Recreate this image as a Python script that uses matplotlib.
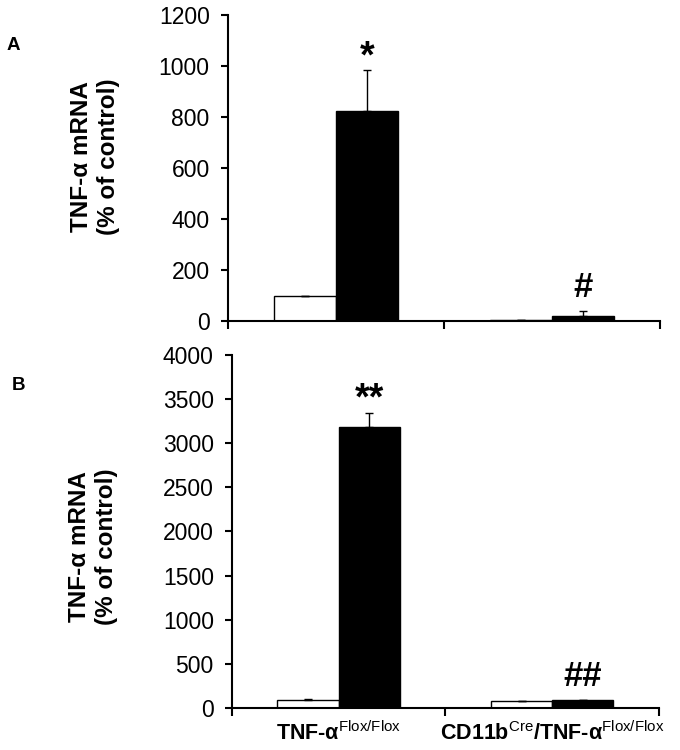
import numpy as np
import matplotlib
matplotlib.use("Agg")
import matplotlib.pyplot as plt

plt.rcParams['font.family'] = ['Liberation Sans', 'DejaVu Sans']
plt.rcParams['mathtext.fontset'] = 'custom'
plt.rcParams['mathtext.rm'] = 'Liberation Sans'

groups = [r"TNF-α$^{\mathrm{Flox/Flox}}$", r"CD11b$^{\mathrm{Cre}}$/TNF-α$^{\mathrm{Flox/Flox}}$"]

# panel A
a_white = [100, 5]
a_white_err = [0, 0]
a_black = [822, 20]
a_black_err = [162, 18]
a_marks = ["*", "#"]

# panel B
b_white = [85, 80]
b_white_err = [15, 0]
b_black = [3180, 88]
b_black_err = [165, 8]
b_marks = ["**", "##"]

fig = plt.figure(figsize=(6.8, 7.5), dpi=100)
axA = fig.add_axes([0.335, 0.572, 0.636, 0.408])
axB = fig.add_axes([0.341, 0.056, 0.628, 0.471])

x = np.arange(len(groups))
w = 0.287


def draw(ax, white, werr, black, berr, marks, ymax, step, show_labels, lab_xy):
    ax.bar(x - w / 2, white, w, color='white', edgecolor='black', linewidth=1.0,
           yerr=[np.zeros(len(werr)), werr], error_kw=dict(ecolor='black', elinewidth=1.0, capsize=3))
    ax.bar(x + w / 2, black, w, color='black', edgecolor='black', linewidth=1.0,
           yerr=[np.zeros(len(berr)), berr], error_kw=dict(ecolor='black', elinewidth=1.0, capsize=3))
    for i, m in enumerate(marks):
        top = black[i] + berr[i]
        if '*' in m:
            fs, off = 27, 3
        else:
            fs, off = 25, 14
        ax.annotate(m, (x[i] + w / 2, top), xytext=(0, off), textcoords='offset pixels',
                    ha='center', va='baseline', fontsize=fs, fontweight='bold')
    ax.set_xlim(-0.5, 1.5)
    ax.set_ylim(0, ymax)
    ax.set_yticks(np.arange(0, ymax + 1, step))
    ax.spines['top'].set_visible(False)
    ax.spines['right'].set_visible(False)
    ax.spines['left'].set_linewidth(1.5)
    ax.spines['bottom'].set_linewidth(1.5)
    ax.tick_params(axis='y', direction='out', length=5, width=1.5, labelsize=16.5, pad=8)
    ax.set_xticks([-0.5, 0.5, 1.5], minor=True)
    ax.set_xticks(x)
    ax.tick_params(axis='x', which='minor', direction='out', length=6, width=1.5)
    ax.tick_params(axis='x', which='major', length=0, labelsize=15.5, pad=10)
    if show_labels:
        ax.set_xticklabels(groups, fontweight='bold')
    else:
        ax.set_xticklabels([])
    ax.set_ylabel("TNF-α mRNA\n(% of control)", fontsize=17.5, fontweight='bold')
    ax.yaxis.set_label_coords(*lab_xy)


draw(axA, a_white, a_white_err, a_black, a_black_err, a_marks, 1200, 200, False, (-0.25, 0.536))
draw(axB, b_white, b_white_err, b_black, b_black_err, b_marks, 4000, 500, True, (-0.267, 0.456))

fig.text(0.01, 0.933, "A", fontsize=13.5, fontweight='bold')
fig.text(0.017, 0.48, "B", fontsize=13.5, fontweight='bold')

fig.savefig("out.png", dpi=100)
